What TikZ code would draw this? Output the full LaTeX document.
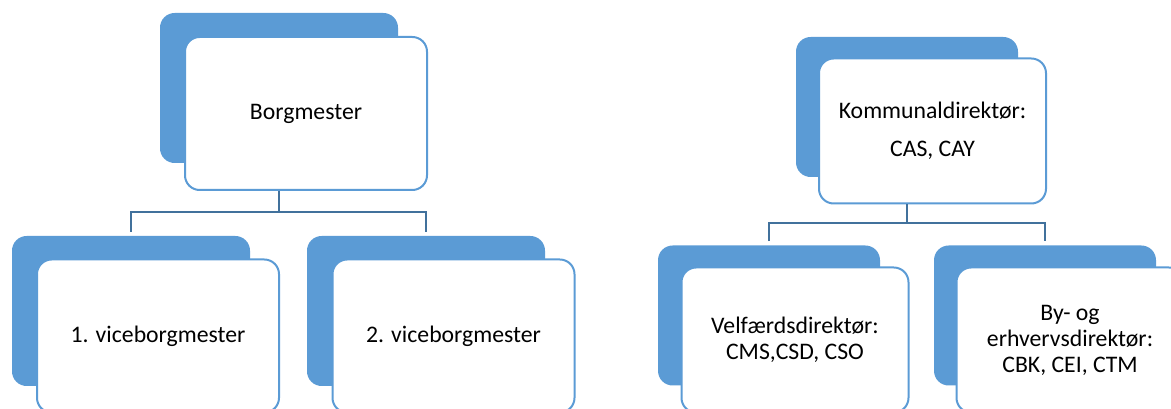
\documentclass[tikz,border=0pt]{standalone}
\usepackage{fontspec}
\setmainfont{Carlito}
\definecolor{smartblaa}{HTML}{5B9BD5}
\definecolor{stregblaa}{HTML}{41719C}
\tikzset{
  bag/.style={fill=smartblaa, rounded corners=11pt, inner sep=0pt},
  forside/.style={draw=smartblaa, line width=1.5pt, fill=white, rounded corners=11pt,
    inner sep=0pt, align=center, font=\fontsize{17.8pt}{19.5pt}\selectfont},
  stor/.style={minimum width=178.5pt, minimum height=112.5pt},
  storfor/.style={minimum width=181.5pt, minimum height=114.75pt},
  lille/.style={minimum width=166.5pt, minimum height=105pt},
  lillefor/.style={minimum width=170.25pt, minimum height=108.75pt},
  streg/.style={draw=stregblaa, line width=1.5pt, shorten <=3pt, shorten >=3pt}
}

\begin{document}
\begin{tikzpicture}[x=0.75pt, y=-0.75pt]
\useasboundingbox (0,0) rectangle (1171,409);

% venstre: borgmester og viceborgmestre
\begin{scope}
\node[bag, stor] (borgbag) at (279,88) {};
\node[forside, storfor] (borg) at (306,113.5) {Borgmester};
\node[bag, stor] (vice1bag) at (131,311) {};
\node[forside, storfor] (vice1) at (158,336) {1. viceborgmester};
\node[bag, stor] (vice2bag) at (426,311) {};
\node[forside, storfor] (vice2) at (453.5,336) {2. viceborgmester};
\coordinate (vgren) at (279,212);
\draw[streg, shorten <=0pt, shorten >=0pt] (borgbag.center |- borg.south) -- (vgren);
\draw[streg] (vice1bag.north) |- (vgren) -| (vice2bag.north);
\end{scope}

% højre: direktion
\begin{scope}
\node[bag, lille] (kombag) at (907,107) {};
\node[forside, lillefor] (kom) at (932.5,131) {Kommunaldirektør:\\[9pt] CAS, CAY};
\node[bag, lille] (velfbag) at (769,315.5) {};
\node[forside, lillefor] (velf) at (795,340) {Velfærdsdirektør:\\ CMS,CSD, CSO};
\node[bag, lille] (bybag) at (1045,315.5) {};
\node[forside, lillefor] (by) at (1070,340) {By- og\\ erhvervsdirektør:\\ CBK, CEI, CTM};
\coordinate (hgren) at (907,223);
\draw[streg, shorten <=0pt, shorten >=0pt] (kombag.center |- kom.south) -- (hgren);
\draw[streg] (velfbag.north) |- (hgren) -| (bybag.north);
\end{scope}
\end{tikzpicture}
\end{document}
